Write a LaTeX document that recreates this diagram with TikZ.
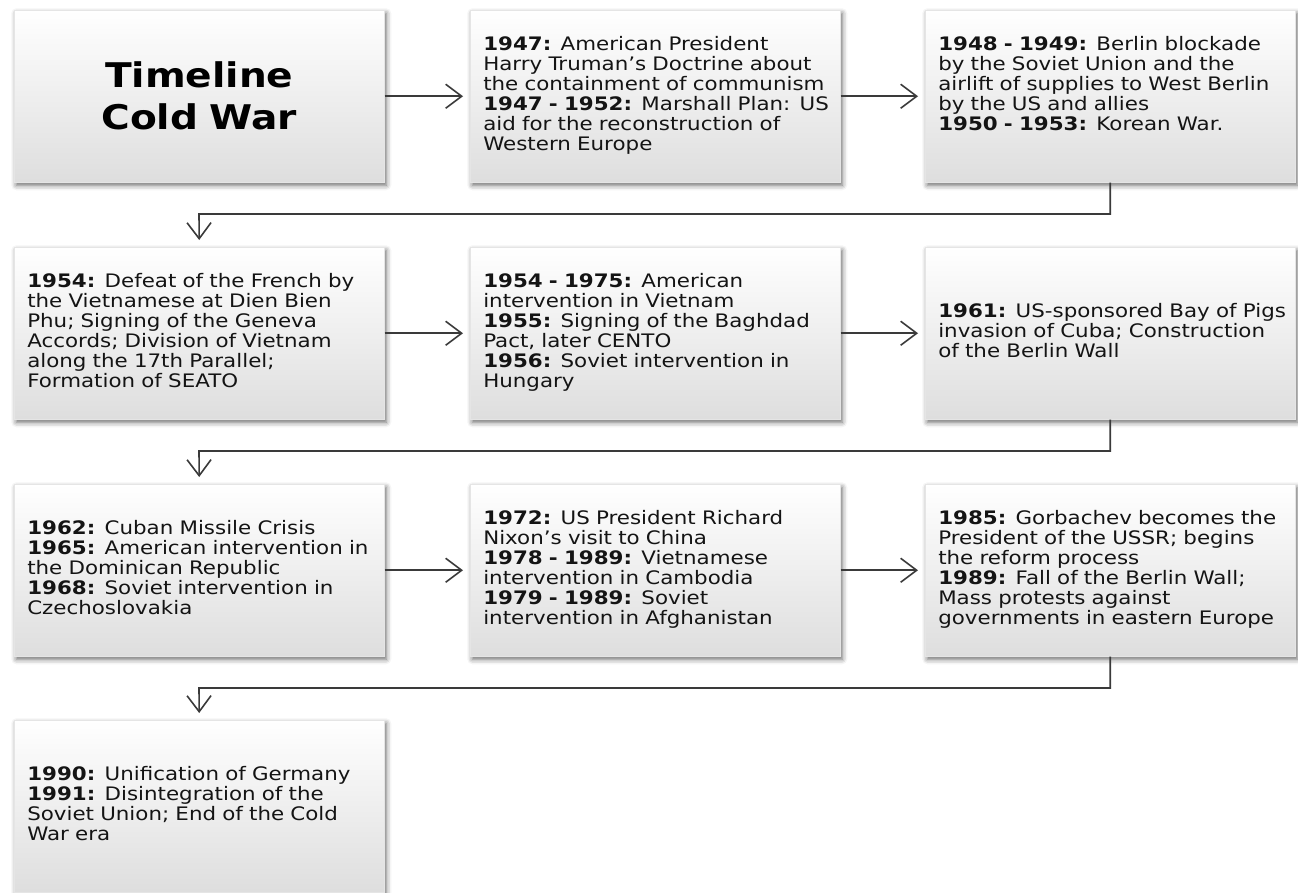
\documentclass[tikz,border=0pt]{standalone}
\usepackage{fontspec}
\setmainfont{DejaVu Sans}[FakeStretch=1.15]
\usetikzlibrary{arrows.meta,shadows.blur}
\definecolor{txt}{HTML}{141414}
\definecolor{conncol}{HTML}{3A3A3A}
\newcommand{\cardlines}[1]{\begin{tabular}{@{}l@{}}#1\end{tabular}}
\begin{document}
\begin{tikzpicture}[x=1pt,y=-1pt,
  card/.style={anchor=north west, minimum width=370pt, minimum height=172pt,
    inner xsep=13pt, inner ysep=0pt, text width=344pt, align=left,
    top color=white, middle color=black!3, bottom color=black!13,
    draw=black!10, line width=0.5pt,
    blur shadow={shadow xshift=2pt, shadow yshift=-3pt, shadow blur radius=5pt, shadow opacity=60},
    font=\fontsize{18.6}{19.8}\selectfont, text=txt},
  titlecard/.style={card, align=center, text=black, font=\bfseries\fontsize{34}{42}\selectfont},
  conn/.style={draw=conncol, line width=1.6pt,
    -{Straight Barb[length=16pt,width=24pt,line width=1.6pt]}, shorten >=7pt}
]
\useasboundingbox (0,0) rectangle (1298,892);

\node[titlecard] (b1) at (14,10) {Timeline\\Cold War};
\node[card] (b2) at (470,10) {\cardlines{\textbf{1947:} American President\\
Harry Truman’s Doctrine about\\
the containment of communism\\
\textbf{1947 - 1952:} Marshall Plan: US\\
aid for the reconstruction of\\
Western Europe}};
\node[card] (b3) at (925,10) {\cardlines{\textbf{1948 - 1949:} Berlin blockade\\
by the Soviet Union and the\\
airlift of supplies to West Berlin\\
by the US and allies\\
\textbf{1950 - 1953:} Korean War.\\ \mbox{}}};

\node[card] (b4) at (14,247) {\cardlines{\textbf{1954:} Defeat of the French by\\
the Vietnamese at Dien Bien\\
Phu; Signing of the Geneva\\
Accords; Division of Vietnam\\
along the 17th Parallel;\\
Formation of SEATO}};
\node[card] (b5) at (470,247) {\cardlines{\textbf{1954 - 1975:} American\\
intervention in Vietnam\\
\textbf{1955:} Signing of the Baghdad\\
Pact, later CENTO\\
\textbf{1956:} Soviet intervention in\\
Hungary}};
\node[card] (b6) at (925,247) {\cardlines{\textbf{1961:} US-sponsored Bay of Pigs\\
invasion of Cuba; Construction\\
of the Berlin Wall}};

\node[card] (b7) at (14,484) {\cardlines{\textbf{1962:} Cuban Missile Crisis\\
\textbf{1965:} American intervention in\\
the Dominican Republic\\
\textbf{1968:} Soviet intervention in\\
Czechoslovakia}};
\node[card] (b8) at (470,484) {\cardlines{\textbf{1972:} US President Richard\\
Nixon’s visit to China\\
\textbf{1978 - 1989:} Vietnamese\\
intervention in Cambodia\\
\textbf{1979 - 1989:} Soviet\\
intervention in Afghanistan}};
\node[card] (b9) at (925,484) {\cardlines{\textbf{1985:} Gorbachev becomes the\\
President of the USSR; begins\\
the reform process\\
\textbf{1989:} Fall of the Berlin Wall;\\
Mass protests against\\
governments in eastern Europe}};

\node[card] (b10) at (14,720) {\cardlines{\textbf{1990:} Unification of Germany\\
\textbf{1991:} Disintegration of the\\
Soviet Union; End of the Cold\\
War era}};

\coordinate (m1) at (199,214);
\coordinate (m2) at (199,451);
\coordinate (m3) at (199,688);

\draw[conn] (b1.east) -- (b2.west);
\draw[conn] (b2.east) -- (b3.west);
\draw[conn] (b3.south) |- (m1) -- (b4.north);
\draw[conn] (b4.east) -- (b5.west);
\draw[conn] (b5.east) -- (b6.west);
\draw[conn] (b6.south) |- (m2) -- (b7.north);
\draw[conn] (b7.east) -- (b8.west);
\draw[conn] (b8.east) -- (b9.west);
\draw[conn] (b9.south) |- (m3) -- (b10.north);
\end{tikzpicture}
\end{document}
